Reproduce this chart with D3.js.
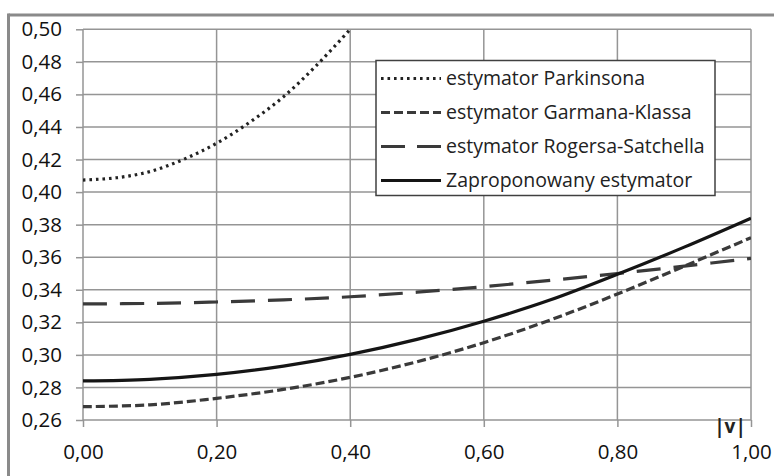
<!DOCTYPE html>
<html><head><meta charset="utf-8">
<script src="https://cdn.jsdelivr.net/npm/d3@7"></script>
<style>html,body{margin:0;padding:0;background:#fff;}svg{display:block;}</style>
</head><body>
<script>
const xValues = [0, 0.1, 0.2, 0.3, 0.4, 0.5, 0.6, 0.7, 0.8, 0.9, 1.0];
const parkX = [0, 0.05, 0.1, 0.15, 0.2, 0.25, 0.3, 0.35, 0.4];
const parkinson = [0.4074, 0.4088, 0.4126, 0.4200, 0.4300, 0.4430, 0.4585, 0.4780, 0.5000];
const garmanKlass = [0.2682, 0.2693, 0.2733, 0.2788, 0.2862, 0.2958, 0.3075, 0.3215, 0.3374, 0.3545, 0.3720];
const rogersSatchell = [0.3313, 0.3316, 0.3325, 0.3338, 0.3357, 0.3385, 0.3419, 0.3458, 0.3500, 0.3545, 0.3593];
const proposed = [0.2840, 0.2850, 0.2880, 0.2931, 0.3003, 0.3095, 0.3207, 0.3338, 0.3495, 0.3662, 0.3840];
const xTicks = [0, 0.2, 0.4, 0.6, 0.8, 1.0];
const yTicks = [0.26, 0.28, 0.30, 0.32, 0.34, 0.36, 0.38, 0.40, 0.42, 0.44, 0.46, 0.48, 0.50];
const legendLabels = ["estymator Parkinsona", "estymator Garmana-Klassa", "estymator Rogersa-Satchella", "Zaproponowany estymator"];
const xAxisLabel = "|v|";

const W = 774, H = 476;
const m = {left: 83, right: 751, top: 29.3, bottom: 420};
const fmt = d3.formatLocale({decimal: ",", thousands: " ", grouping: [3], currency: ["", " zł"]}).format(".2f");

const x = d3.scaleLinear().domain([0, 1]).range([m.left, m.right]);
const y = d3.scaleLinear().domain([0.26, 0.50]).range([m.bottom, m.top]);

const svg = d3.select("body").append("svg").attr("width", W).attr("height", H)
  .style("font-family", "'Open Sans', sans-serif");
svg.append("rect").attr("width", W).attr("height", H).attr("fill", "#fff");

// outer frame (cropped)
svg.append("line").attr("x1", 8.5).attr("x2", W).attr("y1", 15).attr("y2", 15)
  .attr("stroke", "#8a8a8a").attr("stroke-width", 3);
svg.append("line").attr("x1", 8.5).attr("x2", 8.5).attr("y1", 13.5).attr("y2", H)
  .attr("stroke", "#8a8a8a").attr("stroke-width", 3);

const gridColor = "#959595";
svg.append("g").selectAll("line").data(yTicks).join("line")
  .attr("x1", m.left).attr("x2", m.right)
  .attr("y1", d => y(d)).attr("y2", d => y(d))
  .attr("stroke", gridColor).attr("stroke-width", 1.5);
svg.append("g").selectAll("line").data(xTicks).join("line")
  .attr("x1", d => x(d)).attr("x2", d => x(d))
  .attr("y1", m.top).attr("y2", m.bottom)
  .attr("stroke", gridColor).attr("stroke-width", 1.5);

const xAxis = d3.axisBottom(x).tickValues(xTicks).tickFormat(fmt).tickSize(7).tickPadding(20);
const gx = svg.append("g").attr("transform", `translate(0,${m.bottom})`).call(xAxis);
const yAxis = d3.axisLeft(y).tickValues(yTicks).tickFormat(fmt).tickSize(7).tickPadding(14);
const gy = svg.append("g").attr("transform", `translate(${m.left},0)`).call(yAxis);
[gx, gy].forEach(g => {
  g.select(".domain").remove();
  g.selectAll(".tick line").attr("stroke", gridColor).attr("stroke-width", 1.5);
  g.selectAll(".tick text").attr("fill", "#111").style("font-size", "20.5px").style("font-family", "'Open Sans', sans-serif");
});
gx.selectAll(".tick text").attr("dy", "0.6em");

svg.append("text").attr("x", x(1) - 21).attr("y", m.bottom + 13)
  .attr("text-anchor", "middle").attr("font-weight", "bold").attr("font-size", 19)
  .attr("fill", "#222").text(xAxisLabel);

svg.append("clipPath").attr("id", "clip").append("rect")
  .attr("x", m.left).attr("y", m.top - 2).attr("width", m.right - m.left).attr("height", m.bottom - m.top + 2);

const styles = [
  {color: "#222", dash: "2.6,3.9", width: 3.2},
  {color: "#3a3a3a", dash: "9,4", width: 3.2},
  {color: "#3a3a3a", dash: "24,13", width: 3.2},
  {color: "#151515", dash: null, width: 3.2}
];
const series = [
  {xs: parkX, ys: parkinson},
  {xs: xValues, ys: garmanKlass},
  {xs: xValues, ys: rogersSatchell},
  {xs: xValues, ys: proposed}
];
const line = d3.line().x(d => x(d[0])).y(d => y(d[1])).curve(d3.curveCatmullRom);
const gl = svg.append("g").attr("clip-path", "url(#clip)");
series.forEach((s, i) => {
  gl.append("path").datum(s.xs.map((v, j) => [v, s.ys[j]]))
    .attr("d", line).attr("fill", "none")
    .attr("stroke", styles[i].color).attr("stroke-width", styles[i].width)
    .attr("stroke-dasharray", styles[i].dash);
});

const lg = svg.append("g");
lg.append("rect").attr("x", 376).attr("y", 60.5).attr("width", 339).attr("height", 135)
  .attr("fill", "#fff").attr("stroke", "#404040").attr("stroke-width", 1.5);
legendLabels.forEach((lab, i) => {
  const cy = 78.5 + i * 34;
  lg.append("line").attr("x1", 381).attr("x2", 441).attr("y1", cy).attr("y2", cy)
    .attr("stroke", styles[i].color).attr("stroke-width", styles[i].width)
    .attr("stroke-dasharray", i === 2 ? "24,12" : styles[i].dash);
  lg.append("text").attr("x", 446).attr("y", cy).attr("dy", "0.35em")
    .attr("font-size", 19.5).attr("fill", "#222").text(lab);
});
</script>
</body></html>
